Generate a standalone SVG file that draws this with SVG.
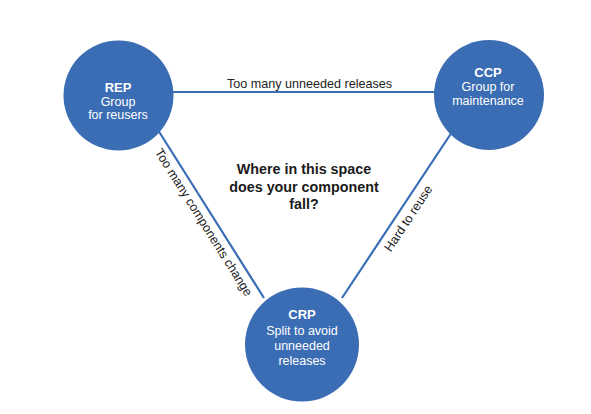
<svg xmlns="http://www.w3.org/2000/svg" width="591" height="414" viewBox="0 0 591 414">
<style>
.node{fill:#3b6db4}
.lbl{font-family:"Liberation Sans",Arial,sans-serif;font-size:12.5px;fill:#ffffff;text-anchor:middle}
.hd{font-weight:bold;font-size:13px}
.edge{stroke:#3b6db4;stroke-width:2.2;fill:none}
.elbl{font-family:"Liberation Sans",Arial,sans-serif;font-size:12.6px;fill:#222222;text-anchor:middle}
.title{font-family:"Liberation Sans",Arial,sans-serif;font-size:14.3px;font-weight:bold;fill:#1a1a1a;text-anchor:middle}
</style>
<rect width="591" height="414" fill="#ffffff"/>
<g id="connectors">
<line class="edge" x1="170" y1="92" x2="440" y2="92"/>
<line class="edge" x1="158" y1="130" x2="264" y2="298"/>
<line class="edge" x1="452" y1="132" x2="342" y2="298"/>
<text class="elbl" x="309.5" y="88">Too many unneeded releases</text>
<g transform="translate(203.5,222.5) rotate(57.8)"><text class="elbl" x="0" y="4">Too many components change</text></g>
<g transform="translate(408.5,218.5) rotate(-56.4)"><text class="elbl" x="0" y="4">Hard to reuse</text></g>
</g>
<g id="title">
<text class="title" x="304" y="174">Where in this space</text>
<text class="title" x="304" y="192">does your component</text>
<text class="title" x="304" y="209">fall?</text>
</g>
<g id="REP">
<circle class="node" cx="118.5" cy="95.5" r="55"/>
<text class="lbl hd" x="118" y="92">REP</text>
<text class="lbl" x="118" y="106">Group</text>
<text class="lbl" x="118" y="119">for reusers</text>
</g>
<g id="CCP">
<circle class="node" cx="489" cy="95" r="55"/>
<text class="lbl hd" x="488" y="77">CCP</text>
<text class="lbl" x="488" y="91">Group for</text>
<text class="lbl" x="488" y="105">maintenance</text>
</g>
<g id="CRP">
<circle class="node" cx="302" cy="344.5" r="57"/>
<text class="lbl hd" x="302" y="319">CRP</text>
<text class="lbl" x="302" y="335">Split to avoid</text>
<text class="lbl" x="302" y="350">unneeded</text>
<text class="lbl" x="302" y="365">releases</text>
</g>
</svg>
